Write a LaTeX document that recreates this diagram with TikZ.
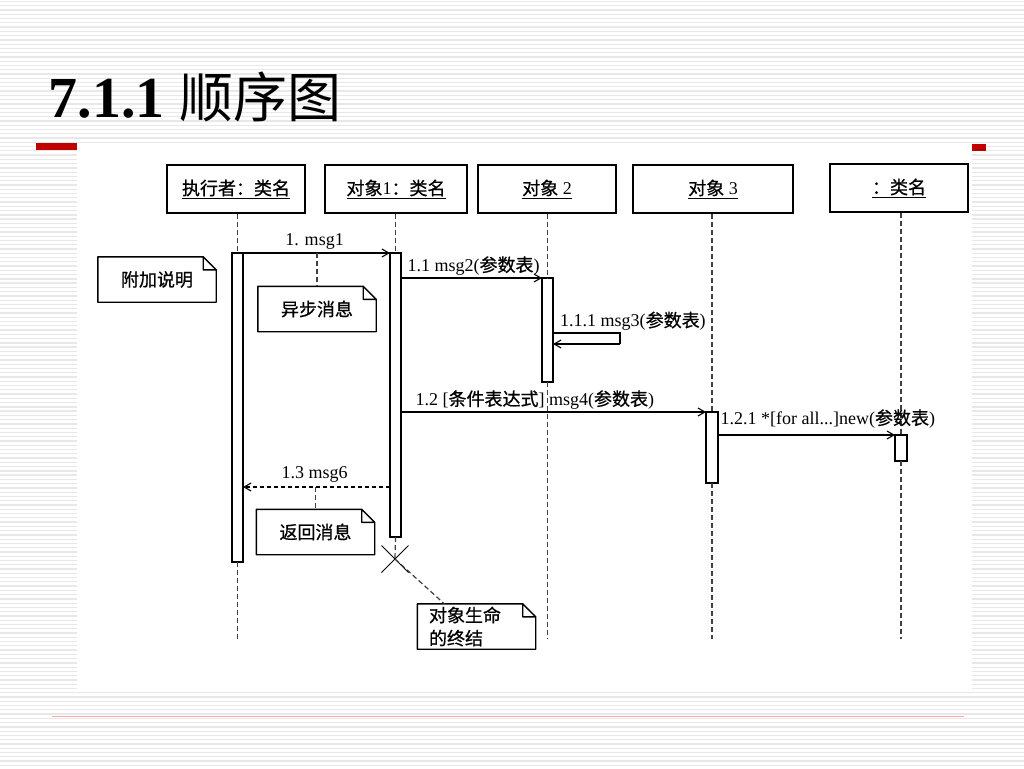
\documentclass[tikz,border=0pt]{standalone}
\usepackage{fontspec}
\setmainfont{Liberation Serif}
\newfontfamily\cjk[FakeBold=0.7]{Noto Sans CJK SC}
\newfontfamily\cjktitle{Noto Sans CJK SC}
\newcommand{\zh}[1]{{\cjk #1}}
\usetikzlibrary{arrows.meta,shapes.misc,positioning}

\begin{document}
\begin{tikzpicture}[x=1pt,y=-1pt,
		>={Straight Barb[length=7pt,width=8pt]},
		every node/.style={font=\fontsize{18}{23}\selectfont},
		head/.style={draw,line width=1.7pt,minimum width=138pt,minimum height=48pt,inner sep=0pt},
		bar/.style={draw,fill=white,line width=1.3pt,minimum width=11pt,inner sep=0pt,outer sep=0pt},
		note/.style={minimum width=118pt,minimum height=45pt,inner sep=0pt},
		life/.style={black!75,line width=1.2pt,dash pattern=on 5pt off 3pt},
		msg/.style={->,line width=1.1pt},
		ret/.style={->,line width=1.1pt,dash pattern=on 4pt off 3pt}]
		\useasboundingbox (0,0) rectangle (1024,768);
		\fill[white] (0,0) rectangle (1024,768);
		\foreach \i in {0,...,179}
			\draw[black!9,line width=1.3pt] (0,1.5+\i*4.267) -- (1024,1.5+\i*4.267);
		\fill[white] (77,143) rectangle (972,690);
		\fill[red!75!black] (36,143) rectangle (77,150);
		\fill[red!75!black] (972,144) rectangle (986,151);
		\draw[red!35,line width=0.8pt] (52,716) -- (964,716);
		
		\node[anchor=base west,font=\bfseries\fontsize{58}{60}\selectfont] (title) at (45,117) {7.1.1 {\cjktitle\mdseries\fontsize{54}{60}\selectfont 顺序图}};
		
		\node[head] (actor) at (236,189) {\underline{\zh{执行者：类名}}};
		\node[head,minimum width=142pt] (obj1) at (396,189) {\underline{\zh{对象}1\zh{：类名}}};
		\node[head] (obj2) at (547,189) {\underline{\zh{对象} 2}};
		\node[head,minimum width=160pt] (obj3) at (713,189) {\underline{\zh{对象} 3}};
		\node[head] (cls) at (899,188) {\underline{\zh{：类名}}};
		
		\node[bar,minimum height=309pt] (b1) at (237.5,407.5) {};
		\node[bar,minimum height=284pt] (b2) at (395.5,395) {};
		\node[bar,minimum height=104pt] (b3) at (547.5,330) {};
		\node[bar,minimum height=71pt,minimum width=12pt] (b4) at (712,447.5) {};
		\node[bar,minimum height=26pt,minimum width=12pt] (b5) at (901,448) {};
		\node[draw,cross out,line width=1pt,minimum size=26pt,inner sep=0pt] (kill) at (395,559) {};
		
		\coordinate (bottom) at (0,639);
		\draw[life] (b1.north |- actor.south) -- (b1.north);
		\draw[life] (b1.south) -- (b1.south |- bottom);
		\draw[life] (b2.north |- obj1.south) -- (b2.north);
		\draw[life] (b2.south) -- (kill.center);
		\draw[life] (b3.north |- obj2.south) -- (b3.north);
		\draw[life] (b3.south) -- (b3.south |- bottom);
		\draw[life] (b4.north |- obj3.south) -- (b4.north);
		\draw[life] (b4.south) -- (b4.south |- bottom);
		\draw[life] (b5.north |- cls.south) -- (b5.north);
		\draw[life] (b5.south) -- (b5.south |- bottom);
		
		\node[note] (addnote) at (157,279.5) {\zh{附加说明}};
		\node[note] (asyncnote) at (317,309) {\zh{异步消息}};
		\node[note] (retnote) at (315.5,532) {\zh{返回消息}};
		\node[note,text width=95pt,align=left] (endnote) at (476.5,626.5) {{\cjk 对象生命\\的终结}};
		\foreach \n in {addnote,asyncnote,retnote,endnote}
			\draw[line width=1.4pt,line join=round] (\n.south west) -- (\n.north west) -- ([xshift=-13pt]\n.north east) -- ([yshift=-13pt]\n.north east) -- (\n.south east) -- cycle
				([xshift=-13pt]\n.north east) |- ([yshift=-13pt]\n.north east);
		
		\draw[msg] (b1.north east) -- (b2.north west) node[midway,above,inner sep=3pt,xshift=-2pt] {1. msg1};
		\draw[msg] (b3.north west -| b2.east) -- (b3.north west) node[pos=0,above right,inner sep=2pt,xshift=4pt] {1.1 msg2(\zh{参数表})};
		\coordinate (s1) at (620,333);
		\coordinate (s2) at (620,344);
		\draw[line width=1.1pt] (b3.east |- s1) -- (s1) -- (s2);
		\draw[msg] (s2) -- (b3.east |- s2);
		\node[above right,inner sep=2pt,xshift=5pt] (selflabel) at (b3.east |- s1) {1.1.1 msg3(\zh{参数表})};
		\draw[msg] (b4.north west -| b2.east) -- (b4.north west) node[pos=0,above right,inner sep=2pt,xshift=12pt] {1.2 [\zh{条件表达式}] msg4(\zh{参数表})};
		\draw[msg] (b5.north west -| b4.east) -- (b5.north west) node[pos=0,above right,inner sep=2pt,yshift=4pt] {1.2.1 *[for all...]new(\zh{参数表})};
		\coordinate (r) at (0,487);
		\draw[ret] (b2.west |- r) -- (b1.east |- r) node[midway,above,inner sep=4pt,xshift=-2pt] {1.3 msg6};
		
		\draw[life] (asyncnote.north |- b1.north) -- (asyncnote.north);
		\draw[life] (retnote.north |- r) -- (retnote.north);
		\draw[life] (kill.center) -- ([xshift=27pt]endnote.north west);
\end{tikzpicture}
\end{document}
